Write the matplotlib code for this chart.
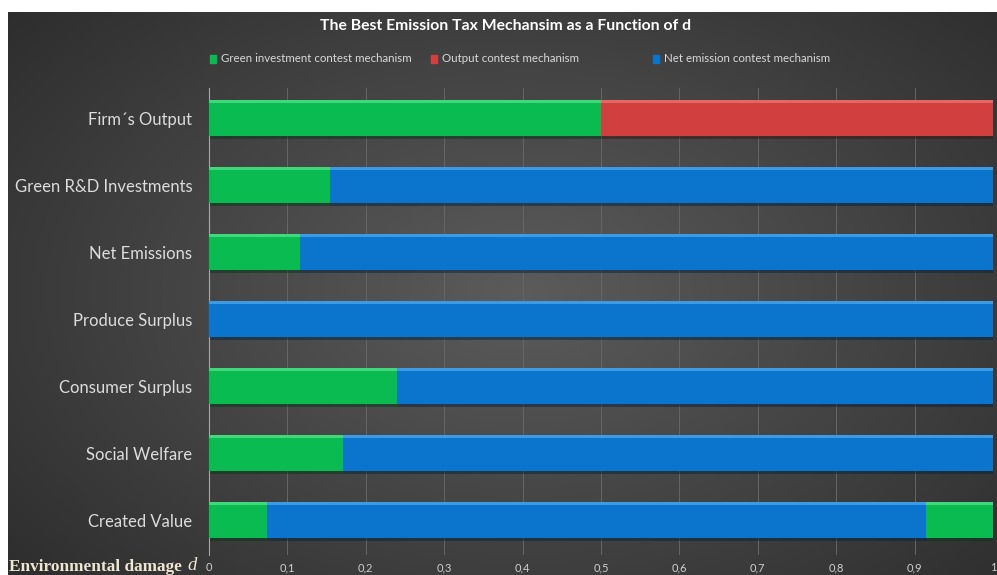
import numpy as np
import matplotlib.pyplot as plt
import matplotlib.patheffects as pe
from matplotlib.patches import Rectangle

categories = [
    "Firm´s Output",
    "Green R&D Investments",
    "Net Emissions",
    "Produce Surplus",
    "Consumer Surplus",
    "Social Welfare",
    "Created Value",
]
# values of d where the best mechanism changes, per category
switch_points = [[0.5], [0.154], [0.116], [], [0.240], [0.171], [0.074, 0.914]]
# mechanism that is best on each interval between switch points
regimes = [
    ["green", "output"],
    ["green", "net"],
    ["green", "net"],
    ["net"],
    ["green", "net"],
    ["green", "net"],
    ["green", "net", "green"],
]
mech_names = {
    "green": "Green investment contest mechanism",
    "output": "Output contest mechanism",
    "net": "Net emission contest mechanism",
}
tick_values = [0, 0.1, 0.2, 0.3, 0.4, 0.5, 0.6, 0.7, 0.8, 0.9, 1]
tick_labels = ["0", "0,1", "0,2", "0,3", "0,4", "0,5", "0,6", "0,7", "0,8", "0,9", "1"]

colors = {"green": "#0abb52", "output": "#d13f3f", "net": "#0b74cc"}
highlight = {"green": "#3fd97c", "output": "#e86565", "net": "#3d9be6"}

plt.rcParams["font.family"] = ["Lato", "DejaVu Sans"]

fig = plt.figure(figsize=(9.97, 5.75), dpi=100)
fig.patch.set_facecolor("white")

# dark panel with radial gradient
bg = fig.add_axes([8 / 997, 0, 1 - 8 / 997, 563 / 575])
bg.set_axis_off()
yy, xx = np.mgrid[0:1:300j, 0:1:500j]
r = np.sqrt(((xx - 0.52) / 0.75) ** 2 + ((yy - 0.5) / 0.85) ** 2)
shade = np.clip(0.36 - 0.2 * r, 0.16, 0.36)
bg.imshow(np.dstack([shade] * 3), extent=[0, 1, 0, 1], aspect="auto", origin="lower")
bg.set_xlim(0, 1)
bg.set_ylim(0, 1)

ax = fig.add_axes([209 / 997, 20 / 575, 784 / 997, 467 / 575])
ax.set_facecolor("none")

bar_h = 0.53
for i, (pts, regs) in enumerate(zip(switch_points, regimes)):
    edges = [0.0] + pts + [1.0]
    for left, right, m in zip(edges[:-1], edges[1:], regs):
        ax.barh(i, right - left, left=left, height=bar_h, color=colors[m],
                zorder=3,
                path_effects=[pe.SimplePatchShadow(offset=(1, -2), alpha=0.5),
                              pe.Normal()])
        ax.barh(i - bar_h / 2 + 0.02, right - left, left=left, height=0.04,
                color=highlight[m], zorder=4, linewidth=0)

ax.set_xlim(0, 1)
ax.set_ylim(6.52, -0.45)
ax.set_yticks(range(len(categories)))
ax.set_yticklabels(categories, fontsize=12, color="#dcdcdc")
ax.set_xticks(tick_values)
ax.set_xticklabels(tick_labels, fontsize=8, color="#cfcfcf")
ax.tick_params(axis="both", length=0)
ax.tick_params(axis="y", pad=12)
ax.tick_params(axis="x", pad=5)
ax.grid(axis="x", color="#666666", linewidth=0.7, zorder=0)
for s in ["top", "right", "bottom"]:
    ax.spines[s].set_visible(False)
ax.spines["left"].set_color("#a8a8a8")
ax.spines["left"].set_linewidth(0.8)

fig.text(0.507, 1 - 26 / 575, "The Best Emission Tax Mechansim as a Function of d",
         ha="center", va="center", fontsize=11.3, fontweight="bold", color="white")

legend_x = [213, 434, 656]
for x, m in zip(legend_x, ["green", "output", "net"]):
    fig.patches.append(Rectangle((x / 997 - 3 / 997, 1 - 63 / 575), 6 / 997, 8 / 575,
                                 transform=fig.transFigure, color=colors[m]))
    fig.text(x / 997 + 8 / 997, 1 - 59 / 575, mech_names[m], ha="left", va="center",
             fontsize=8.3, color="#d9d9d9")

fig.text(182 / 997, 1 - 567 / 575, "Environmental damage", ha="right", va="center",
         fontsize=12.4, color="#efe6cf", family=["Liberation Serif"], fontweight="bold")
fig.text(187 / 997, 1 - 566 / 575, "d", ha="left", va="center",
         fontsize=13.5, color="#efe6cf", family=["Liberation Serif"], style="italic")

fig.savefig("out.png", dpi=100)
